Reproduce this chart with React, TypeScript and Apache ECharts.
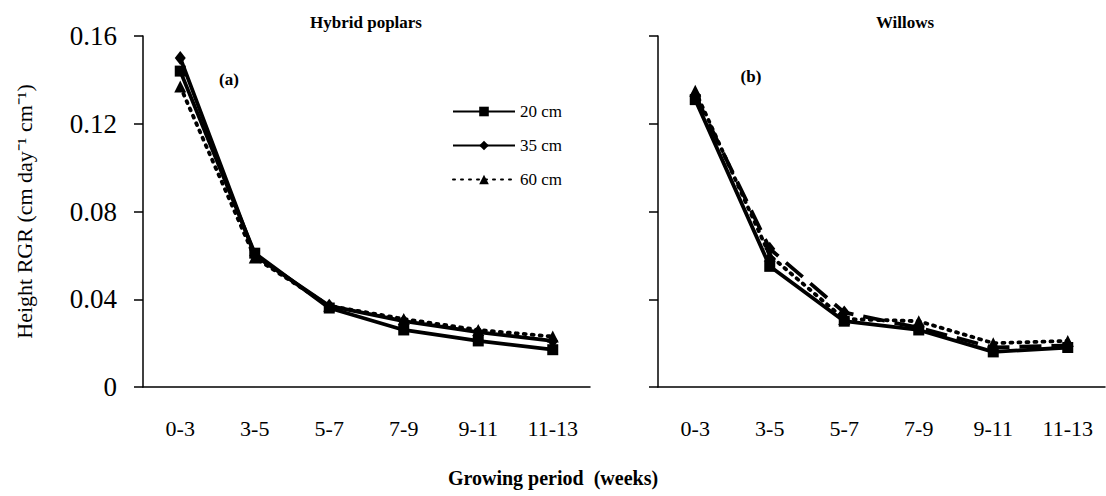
import React, { useEffect, useRef } from "react";
import * as echarts from "echarts";

const categories = ["0-3", "3-5", "5-7", "7-9", "9-11", "11-13"];
const yTicks = [0, 0.04, 0.08, 0.12, 0.16];

const poplar20 = [0.144, 0.061, 0.036, 0.026, 0.021, 0.017];
const poplar35 = [0.15, 0.06, 0.037, 0.03, 0.025, 0.021];
const poplar60 = [0.137, 0.059, 0.037, 0.031, 0.026, 0.023];

const willow20 = [0.131, 0.055, 0.03, 0.026, 0.016, 0.018];
const willow35 = [0.133, 0.063, 0.034, 0.027, 0.018, 0.019];
const willow60 = [0.135, 0.06, 0.031, 0.03, 0.02, 0.021];

const legendNames = ["20 cm", "35 cm", "60 cm"];

const FONT = "'Liberation Serif', 'Times New Roman', serif";

export default function App() {
  const ref = useRef<HTMLDivElement>(null);
  useEffect(() => {
    if (!ref.current) return;
    const chart = echarts.init(ref.current, null, { renderer: "svg" });

    const xAxisBase = (gridIndex: number) => ({
      type: "category",
      gridIndex,
      data: categories,
      boundaryGap: true,
      axisLine: { lineStyle: { color: "#000", width: 1.5 } },
      axisTick: { alignWithLabel: true, length: 6, lineStyle: { color: "#000", width: 1.5 } },
      axisLabel: { color: "#000", fontFamily: FONT, fontSize: 22, margin: 30, interval: 0 },
      splitLine: { show: false },
    });
    const yAxisBase = (gridIndex: number, showLabel: boolean) => ({
      type: "value",
      gridIndex,
      min: 0,
      max: yTicks[yTicks.length - 1],
      interval: 0.04,
      axisLine: { show: true, lineStyle: { color: "#000", width: 1.5 } },
      axisTick: { show: true, length: 9, lineStyle: { color: "#000", width: 1.5 } },
      axisLabel: {
        show: showLabel,
        color: "#000",
        fontFamily: FONT,
        fontSize: 27,
        margin: 26,
        formatter: (v: number) => (v === 0 ? "0" : v.toFixed(2)),
      },
      splitLine: { show: false },
    });

    const mk = (
      name: string,
      data: number[],
      idx: number,
      symbol: string,
      symbolSize: number | number[],
      lineType: any,
      z: number,
      cap: string = "butt"
    ) => ({
      name,
      type: "line",
      xAxisIndex: idx,
      yAxisIndex: idx,
      data,
      symbol,
      symbolSize,
      z,
      lineStyle: { color: "#000", width: 3.8, type: lineType, cap },
      itemStyle: { color: "#000", borderWidth: 0 },
    });

    chart.setOption({
      animation: false,
      backgroundColor: "#fff",
      grid: [
        { left: 143, top: 36, width: 447, height: 351 },
        { left: 658, top: 36, width: 447, height: 351 },
      ],
      xAxis: [xAxisBase(0), xAxisBase(1)],
      yAxis: [
        {
          ...yAxisBase(0, true),
          name: "Height RGR (cm day\u207B\u00B9 cm\u207B\u00B9)",
          nameLocation: "middle",
          nameGap: 108,
          nameTextStyle: { color: "#000", fontFamily: FONT, fontSize: 22 },
        },
        yAxisBase(1, false),
      ],
      legend: {
        data: legendNames,
        orient: "vertical",
        left: 447,
        top: 98,
        itemWidth: 62,
        itemHeight: 12,
        itemGap: 17,
        textStyle: { color: "#000", fontFamily: FONT, fontSize: 17 },
        selectedMode: false,
      },
      series: [
        mk("60 cm", poplar60, 0, "triangle", 12, [2, 6], 2, "round"),
        mk("35 cm", poplar35, 0, "diamond", [11, 14], "solid", 3),
        mk("20 cm", poplar20, 0, "rect", 11, "solid", 4),
        mk("W 60 cm", willow60, 1, "triangle", 12, [2, 6], 2, "round"),
        mk("W 35 cm", willow35, 1, "diamond", [11, 14], [22, 10], 3),
        mk("W 20 cm", willow20, 1, "rect", 11, "solid", 4),
      ],
      graphic: [
        {
          type: "text",
          x: 366,
          y: 22,
          style: { text: "Hybrid poplars", fontFamily: FONT, fontSize: 17, fontWeight: "bold", fill: "#000", textAlign: "center", textVerticalAlign: "middle" },
        },
        {
          type: "text",
          x: 905,
          y: 22,
          style: { text: "Willows", fontFamily: FONT, fontSize: 17, fontWeight: "bold", fill: "#000", textAlign: "center", textVerticalAlign: "middle" },
        },
        {
          type: "text",
          x: 229,
          y: 79,
          style: { text: "(a)", fontFamily: FONT, fontSize: 17, fontWeight: "bold", fill: "#000", textAlign: "center", textVerticalAlign: "middle" },
        },
        {
          type: "text",
          x: 751,
          y: 76,
          style: { text: "(b)", fontFamily: FONT, fontSize: 17, fontWeight: "bold", fill: "#000", textAlign: "center", textVerticalAlign: "middle" },
        },
        {
          type: "text",
          x: 553,
          y: 478,
          style: { text: "Growing period  (weeks)", fontFamily: FONT, fontSize: 20, fontWeight: "bold", fill: "#000", textAlign: "center", textVerticalAlign: "middle" },
        },
      ],
    });
    return () => chart.dispose();
  }, []);
  return (
    <div
      ref={ref}
      style={{ position: "absolute", left: 0, top: 0, width: 1106, height: 496 }}
    />
  );
}
